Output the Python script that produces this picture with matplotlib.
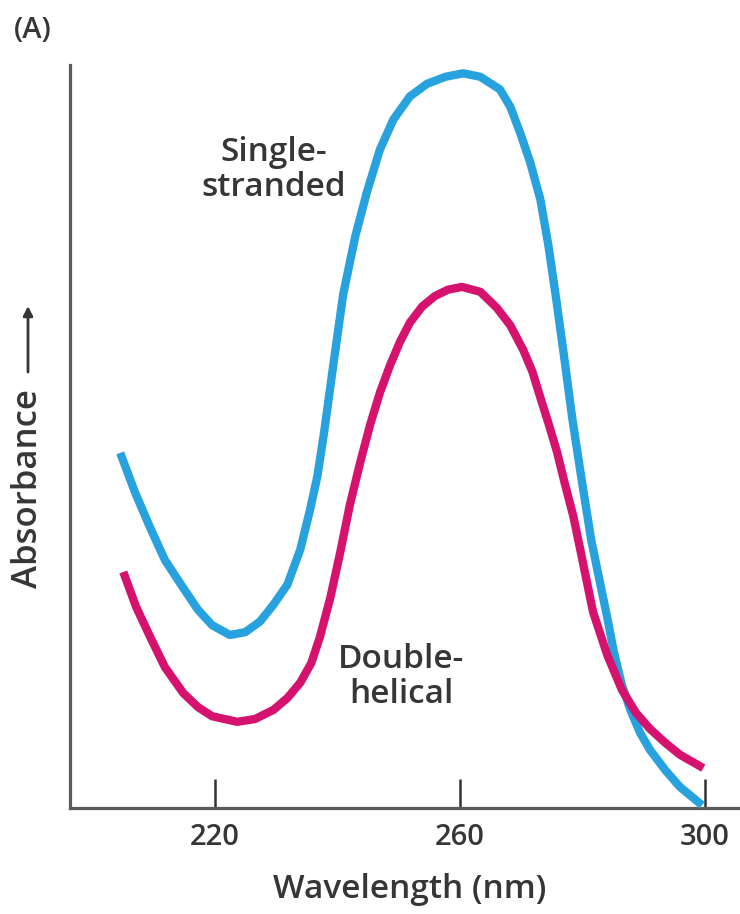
import matplotlib.pyplot as plt

# wavelength (nm) and absorbance (arbitrary units)
single_nm = [204.5, 206.9, 209.4, 211.8, 214.8, 217.2, 219.5, 222.4, 224.9, 227.3,
             229.5, 231.8, 233.9, 235.5, 236.7, 237.8, 239.3, 240.9, 242.9, 244.8,
             246.9, 249.1, 251.8, 254.6, 257.6, 260.5, 263.3, 266.5, 268.2, 269.8,
             271.4, 273.1, 274.4, 275.7, 277.0, 278.3, 279.8, 281.4, 282.9, 284.0,
             285.1, 286.4, 287.8, 289.4, 291.0, 293.5, 295.9, 299.5]
single_abs = [0.507, 0.451, 0.400, 0.354, 0.314, 0.283, 0.261, 0.247, 0.251, 0.266,
              0.290, 0.319, 0.369, 0.426, 0.474, 0.537, 0.633, 0.733, 0.817, 0.880,
              0.940, 0.983, 1.016, 1.034, 1.044, 1.049, 1.044, 1.026, 1.001, 0.964,
              0.923, 0.869, 0.804, 0.726, 0.643, 0.557, 0.471, 0.383, 0.319, 0.273,
              0.223, 0.176, 0.140, 0.107, 0.083, 0.054, 0.030, 0.004]

double_nm = [205.0, 207.1, 209.4, 211.8, 214.8, 217.2, 219.5, 223.6, 226.5, 229.5,
             231.8, 233.9, 235.7, 237.1, 238.8, 240.4, 242.0, 243.7, 245.3, 246.9,
             248.6, 250.2, 251.8, 253.8, 255.9, 258.0, 260.3, 263.3, 266.0, 268.2,
             270.3, 271.8, 273.1, 274.4, 275.8, 277.1, 278.5, 279.9, 281.7, 284.0,
             286.4, 288.7, 291.0, 293.5, 295.9, 299.7]
double_abs = [0.337, 0.287, 0.244, 0.201, 0.164, 0.144, 0.131, 0.123, 0.127, 0.140,
              0.157, 0.179, 0.207, 0.244, 0.300, 0.364, 0.433, 0.494, 0.547, 0.593,
              0.633, 0.666, 0.693, 0.716, 0.731, 0.740, 0.744, 0.737, 0.714, 0.689,
              0.654, 0.623, 0.586, 0.550, 0.509, 0.463, 0.416, 0.357, 0.280, 0.219,
              0.169, 0.136, 0.113, 0.093, 0.076, 0.057]

xticks = [220, 260, 300]

BLUE = '#28a2de'
MAGENTA = '#d5136e'
TEXT = '#363636'
FONT = ['Open Sans', 'DejaVu Sans']
W = 'semibold'

plt.rcParams['font.family'] = FONT

fig = plt.figure(figsize=(7.4, 9.14), dpi=100)
ax = fig.add_axes([0.0946, 0.116, 0.9054, 0.813])

ax.plot(single_nm, single_abs, color=BLUE, lw=6, solid_capstyle='butt',
        solid_joinstyle='round', clip_on=False, zorder=3)
ax.plot(double_nm, double_abs, color=MAGENTA, lw=6, solid_capstyle='butt',
        solid_joinstyle='round', clip_on=False, zorder=4)

ax.set_xlim(196.3, 305.7)
ax.set_ylim(0, 1.061)

for s in ['top', 'right']:
    ax.spines[s].set_visible(False)
for s in ['left', 'bottom']:
    ax.spines[s].set_color('#5a5a5a')
    ax.spines[s].set_linewidth(2.3)

ax.set_yticks([])
ax.set_xticks(xticks)
ax.set_xticklabels([str(t) for t in xticks], fontweight=W)
ax.tick_params(axis='x', direction='in', length=21, width=1.8, color='#333333',
               labelsize=21, labelcolor=TEXT, pad=11)

fig.text(410 / 740, 1 - 890 / 914, 'Wavelength (nm)', fontsize=24, fontweight=W,
         color=TEXT, ha='center', va='center')

ax.text(229.6, 0.911, 'Single-\nstranded', fontsize=24, fontweight=W, color=TEXT,
        ha='center', va='center', linespacing=1.1)
ax.text(250.4, 0.187, 'Double-\nhelical', fontsize=24, fontweight=W, color=TEXT,
        ha='center', va='center', linespacing=1.1)

fig.text(28 / 740, 1 - 489 / 914, 'Absorbance', rotation=90, fontsize=25, fontweight=W,
         color=TEXT, ha='center', va='center')
ax.annotate('', xy=(28 / 740, 1 - 306 / 914), xytext=(28 / 740, 1 - 372 / 914),
            xycoords='figure fraction', textcoords='figure fraction',
            arrowprops=dict(arrowstyle='-|>', color=TEXT, lw=2, mutation_scale=14,
                            shrinkA=0, shrinkB=0))

fig.text(33 / 740, 1 - 30 / 914, '(A)', fontsize=21, fontweight=W, color=TEXT,
         ha='center', va='center')

fig.savefig('out.png', dpi=100, facecolor='white')
